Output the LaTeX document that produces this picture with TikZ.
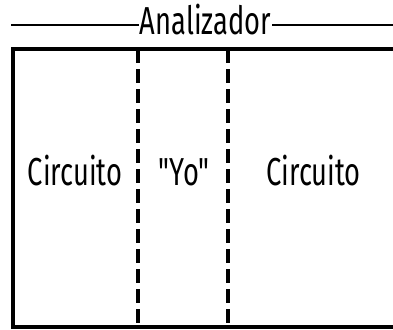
\documentclass[tikz,border=0pt]{standalone}
\usepackage{fontspec}
\newfontfamily\condf[FakeStretch=0.70]{Fira Sans}
\begin{document}
\begin{tikzpicture}[x=1pt,y=-1pt,
  lbl/.style={font=\condf\fontsize{39}{39}\selectfont, inner sep=0pt, anchor=base},
  frame/.style={line width=4pt},
  divider/.style={line width=4pt, dash pattern=on 14pt off 6pt},
  rule/.style={line width=1.6pt}]
\useasboundingbox (0,0) rectangle (393,329);
\begin{scope}
\clip (0,0) rectangle (393,329);
\node[lbl] (title) at (205.5,35) {Analizador};
\coordinate (tl1) at (11,25);
\coordinate (tl2) at (139,25);
\coordinate (tr1) at (272,25);
\coordinate (tr2) at (400,25);
\draw[rule] (tl1) -- (tl2);
\draw[rule] (tr1) -- (tr2);
\coordinate (tr) at (405,49);
\coordinate (tlc) at (13,49);
\coordinate (blc) at (13,327);
\coordinate (br) at (405,327);
\draw[frame] (tr) -- (tlc) -- (blc) -- (br);
\coordinate (d1t) at (138,49);
\coordinate (d1b) at (138,327);
\coordinate (d2t) at (227.5,49);
\coordinate (d2b) at (227.5,327);
\draw[divider] (d1t) -- (d1b);
\draw[divider] (d2t) -- (d2b);
\node[lbl] (c1) at (75,185) {Circuito};
\node[lbl] (yo) at (184,185) {"Yo"};
\node[lbl] (c2) at (313.5,185) {Circuito};
\end{scope}
\end{tikzpicture}
\end{document}
